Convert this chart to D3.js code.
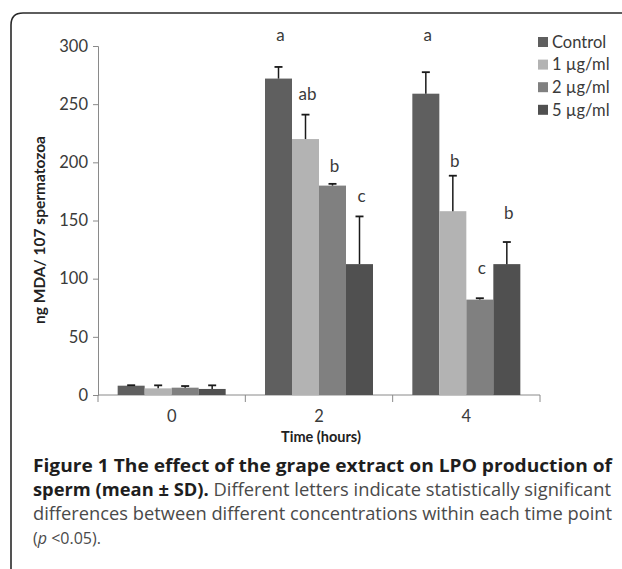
<!DOCTYPE html>
<html><head><meta charset="utf-8">
<script src="https://cdn.jsdelivr.net/npm/d3@7"></script>
<style>body{margin:0;background:#fff}svg{display:block}</style>
</head><body>
<script>
const categories = ["0", "2", "4"];
const seriesNames = ["Control", "1 µg/ml", "2 µg/ml", "5 µg/ml"];
const seriesColors = ["#5f5f5f", "#b3b3b3", "#808080", "#505050"];
const means = [
  [8, 5.7, 6.3, 5.2],
  [272, 220, 180, 112.5],
  [259, 158, 82, 112.5]
];
const sds = [
  [0.4, 2.6, 1.4, 3.1],
  [10, 21, 1.5, 41],
  [18.5, 30.5, 1.2, 19]
];
const letters = [
  ["", "", "", ""],
  ["a", "ab", "b", "c"],
  ["a", "b", "c", "b"]
];
const letterPos = [
  [0, 0, 0, 0],
  [309, 259, 197, 171],
  [309, 201, 109, 156]
];
const yTicks = [0, 50, 100, 150, 200, 250, 300];

const W = 622, H = 569;
const svg = d3.select("body").append("svg").attr("width", W).attr("height", H);

// frame
svg.append("path")
  .attr("d", `M11,${H} L11,25 Q11,13 23,13 L${W},13`)
  .attr("fill", "none").attr("stroke", "#2a2a2a").attr("stroke-width", 1.6);

const x0 = d3.scaleBand().domain(categories).range([98, 540]).paddingInner(0.267).paddingOuter(0.1335);
const x1 = d3.scaleBand().domain(d3.range(seriesNames.length)).range([0, x0.bandwidth()]).padding(0);
const y = d3.scaleLinear().domain([0, 300]).range([395, 46]);

const font = "Lato, 'Open Sans', sans-serif";

// y axis
const yAxis = svg.append("g").attr("transform", "translate(98,0)")
  .call(d3.axisLeft(y).tickValues(yTicks).tickSize(5).tickPadding(5));
yAxis.select(".domain").attr("stroke", "#8a8a8a");
yAxis.selectAll(".tick line").attr("stroke", "#8a8a8a");
yAxis.selectAll(".tick text").attr("font-family", font).attr("font-size", 16.5).attr("fill", "#3a3a3a");

// x axis
const xAxisG = svg.append("g").attr("transform", "translate(0,395)");
xAxisG.append("line").attr("x1", 98).attr("x2", 540).attr("stroke", "#8a8a8a");
const bounds = [98].concat(categories.map(c => x0(c) + x0.bandwidth() + x0.step() * 0.1335));
bounds.forEach(b => xAxisG.append("line").attr("x1", b).attr("x2", b).attr("y1", 0).attr("y2", 7).attr("stroke", "#8a8a8a"));
categories.forEach(c => xAxisG.append("text")
  .attr("x", x0(c) + x0.bandwidth() / 2).attr("y", 27)
  .attr("text-anchor", "middle").attr("font-family", font).attr("font-size", 16.5).attr("fill", "#3a3a3a").text(c));

// bars
categories.forEach((c, ci) => {
  const g = svg.append("g").attr("transform", `translate(${x0(c)},0)`);
  seriesNames.forEach((s, si) => {
    const bx = x1(si), bw = x1.bandwidth();
    g.append("rect").attr("x", bx).attr("width", bw)
      .attr("y", y(means[ci][si])).attr("height", y(0) - y(means[ci][si]))
      .attr("fill", seriesColors[si]);
    const cx = bx + bw / 2;
    const top = y(means[ci][si] + sds[ci][si]);
    g.append("line").attr("x1", cx).attr("x2", cx).attr("y1", y(means[ci][si])).attr("y2", top)
      .attr("stroke", "#1a1a1a").attr("stroke-width", 1.5);
    g.append("line").attr("x1", cx - 4).attr("x2", cx + 4).attr("y1", top).attr("y2", top)
      .attr("stroke", "#1a1a1a").attr("stroke-width", 1.8);
    if (letters[ci][si]) {
      g.append("text").attr("x", cx + 2).attr("y", y(letterPos[ci][si]))
        .attr("dy", "0.35em").attr("text-anchor", "middle")
        .attr("font-family", font).attr("font-size", 17).attr("fill", "#3a3a3a")
        .text(letters[ci][si]);
    }
  });
});

// legend
seriesNames.forEach((s, i) => {
  const ly = 42 + i * 22.6;
  svg.append("rect").attr("x", 538).attr("y", ly - 5).attr("width", 10).attr("height", 10).attr("fill", seriesColors[i]);
  svg.append("text").attr("x", 552).attr("y", ly).attr("dy", "0.35em")
    .attr("font-family", font).attr("font-size", 16.5).attr("fill", "#3a3a3a").text(s);
});

// axis titles
svg.append("text").attr("transform", "translate(45,230) rotate(-90)")
  .attr("text-anchor", "middle").attr("font-family", font).attr("font-weight", "bold")
  .attr("font-size", 15.5).attr("fill", "#222").text("ng MDA/ 107 spermatozoa");
svg.append("text").attr("x", 321).attr("y", 442).attr("text-anchor", "middle")
  .attr("font-family", font).attr("font-weight", "bold").attr("font-size", 14.5).attr("fill", "#222")
  .text("Time (hours)");

// caption
const capFont = "'Open Sans', sans-serif";
const cap = svg.append("g").attr("font-family", capFont).attr("font-size", 18);
cap.append("text").attr("x", 33).attr("y", 472).attr("font-weight", "bold").attr("fill", "#1e1e1e")
  .attr("textLength", 579).attr("lengthAdjust", "spacingAndGlyphs")
  .text("Figure 1 The effect of the grape extract on LPO production of");
const l2 = cap.append("text").attr("x", 33).attr("y", 496)
  .attr("textLength", 578).attr("lengthAdjust", "spacingAndGlyphs");
l2.append("tspan").attr("font-weight", "bold").attr("fill", "#1e1e1e").text("sperm (mean ± SD).");
l2.append("tspan").attr("fill", "#4a4a4a").text(" Different letters indicate statistically significant");
cap.append("text").attr("x", 33).attr("y", 520).attr("fill", "#4a4a4a")
  .attr("textLength", 579).attr("lengthAdjust", "spacingAndGlyphs")
  .text("differences between different concentrations within each time point");
const l4 = cap.append("text").attr("x", 33).attr("y", 544).attr("fill", "#4a4a4a").attr("font-size", 16);
l4.append("tspan").text("(");
l4.append("tspan").attr("font-style", "italic").text("p");
l4.append("tspan").text(" <0.05).");
</script>
</body></html>
